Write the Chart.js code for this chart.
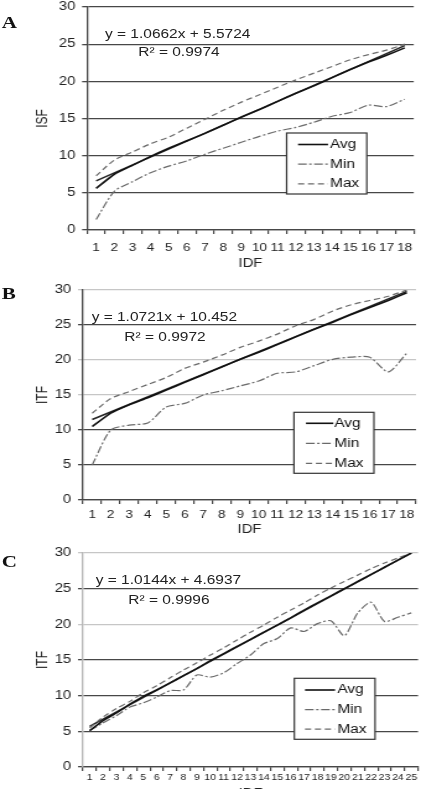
<!DOCTYPE html>
<html>
<head>
<meta charset="utf-8">
<script src="https://cdn.jsdelivr.net/npm/chart.js@4.4.1/dist/chart.umd.min.js"></script>
<style>
  html, body { margin: 0; background: #fff; overflow: hidden; }
  #page { position: relative; width: 340px; height: 789px; transform: scaleX(1.2382); transform-origin: 0 0; }
  canvas { position: absolute; left: 0; }
  .tag { position: absolute; left: 1.5px; font: bold 17px 'Liberation Serif', 'Times New Roman', serif; line-height: 20px; color: #111; }
  .eq { position: absolute; font: 12.5px 'Liberation Sans', Arial, sans-serif; line-height: 15px; color: #222; white-space: nowrap; }
</style>
</head>
<body>
<div id="page">
  <div class="tag" style="top:12.5px">A</div>
  <div class="tag" style="top:283.5px">B</div>
  <div class="tag" style="top:552px">C</div>
  <canvas id="chartA" width="340" height="272" style="top:0;width:340px;height:272px"></canvas>
  <canvas id="chartB" width="340" height="266" style="top:272px;width:340px;height:266px"></canvas>
  <canvas id="chartC" width="340" height="263" style="top:538px;width:340px;height:263px"></canvas>
  <div class="eq" id="eqA1" style="left:84.8px;top:26.7px"></div>
  <div class="eq" id="eqA2" style="left:111.7px;top:45.4px"></div>
  <div class="eq" id="eqB1" style="left:74px;top:309.6px"></div>
  <div class="eq" id="eqB2" style="left:100.4px;top:329.6px"></div>
  <div class="eq" id="eqC1" style="left:77.3px;top:572.9px"></div>
  <div class="eq" id="eqC2" style="left:103.6px;top:593.4px"></div>
</div>
<script>
// categories (IDF)
const idf18 = ['1', '2', '3', '4', '5', '6', '7', '8', '9', '10', '11', '12', '13', '14', '15', '16', '17', '18'];
const idf25 = ['1', '2', '3', '4', '5', '6', '7', '8', '9', '10', '11', '12', '13', '14', '15', '16', '17', '18', '19', '20', '21', '22', '23', '24', '25'];

// panel A: ISF
const isfAvg = [5.6, 7.5, 8.7, 9.9, 11.0, 12.0, 13.0, 14.1, 15.2, 16.2, 17.3, 18.4, 19.4, 20.5, 21.6, 22.6, 23.5, 24.5];
const isfMin = [1.4, 5.2, 6.5, 7.7, 8.6, 9.3, 10.2, 11.0, 11.8, 12.6, 13.3, 13.8, 14.5, 15.3, 15.8, 16.8, 16.6, 17.6];
const isfMax = [7.3, 9.4, 10.5, 11.6, 12.5, 13.7, 14.9, 16.1, 17.2, 18.2, 19.2, 20.2, 21.1, 22.0, 22.9, 23.6, 24.2, 25.0];
const isfTrend = [6.6, 24.8]; // first and last point of the linear fit
const eqA = ['y = 1.0662x + 5.5724', 'R² = 0.9974'];

// panel B: ITF
const itfBAvg = [10.5, 12.4, 13.6, 14.6, 15.7, 16.8, 17.9, 19.0, 20.1, 21.1, 22.2, 23.3, 24.4, 25.4, 26.5, 27.5, 28.5, 29.6];
const itfBMin = [5.0, 10.0, 10.7, 11.0, 13.3, 13.8, 15.0, 15.6, 16.3, 17.0, 18.1, 18.3, 19.2, 20.1, 20.4, 20.4, 18.3, 21.0];
const itfBMax = [12.4, 14.5, 15.5, 16.5, 17.5, 18.8, 19.7, 20.7, 21.8, 22.7, 23.7, 24.9, 25.8, 27.0, 27.9, 28.5, 29.1, 30.0];
const itfBTrend = [11.5, 29.8];
const eqB = ['y = 1.0721x + 10.452', 'R² = 0.9972'];

// panel C: ITF
const itfCAvg = [5.1, 6.5, 7.6, 8.8, 9.9, 10.8, 11.8, 12.8, 13.8, 14.9, 15.9, 16.9, 17.9, 18.9, 19.9, 20.9, 22.0, 23.0, 24.0, 25.0, 26.0, 27.0, 28.0, 29.0, 30.0];
const itfCMin = [5.1, 6.2, 7.2, 8.4, 9.0, 9.8, 10.7, 10.8, 12.9, 12.6, 13.2, 14.5, 15.7, 17.3, 18.0, 19.5, 19.0, 20.1, 20.5, 18.4, 21.6, 23.1, 20.4, 21.0, 21.6];
const itfCMax = [5.5, 7.0, 8.2, 9.2, 10.4, 11.4, 12.5, 13.6, 14.6, 15.7, 16.7, 17.8, 18.9, 19.9, 21.0, 22.0, 23.0, 24.1, 25.1, 26.0, 26.9, 27.8, 28.6, 29.3, 30.0];
const itfCTrend = [5.7, 30.0];
const eqC = ['y = 1.0144x + 4.6937', 'R² = 0.9996'];

const yMin = 0, yMax = 30, yStep = 5;

document.getElementById('eqA1').textContent = eqA[0];
document.getElementById('eqA2').textContent = eqA[1];
document.getElementById('eqB1').textContent = eqB[0];
document.getElementById('eqB2').textContent = eqB[1];
document.getElementById('eqC1').textContent = eqC[0];
document.getElementById('eqC2').textContent = eqC[1];

const sans = "'Liberation Sans', Arial, sans-serif";
const narrow = "'Liberation Sans Narrow', 'Arial Narrow', 'Liberation Sans', sans-serif";
const dark = '#474747';
const light = '#c6c6c6';

Chart.defaults.font.family = sans;
Chart.defaults.color = '#222';

// legend drawn as a framed box inside the plot, like the original
const boxLegend = {
  id: 'boxLegend',
  afterDatasetsDraw(chart, args, opts) {
    const ctx = chart.ctx;
    ctx.save();
    ctx.fillStyle = '#fff';
    ctx.fillRect(opts.x, opts.y, opts.w, opts.h);
    ctx.strokeStyle = '#333';
    ctx.lineWidth = 1.2;
    ctx.strokeRect(opts.x, opts.y, opts.w, opts.h);
    ctx.font = '12.5px ' + sans;
    ctx.textBaseline = 'middle';
    chart.data.datasets.filter((d) => !d.hideInBox).forEach((d, i) => {
      const y = opts.y + opts.first + i * opts.gap;
      ctx.strokeStyle = d.borderColor;
      ctx.lineWidth = d.borderWidth;
      ctx.setLineDash(d.borderDash || []);
      ctx.beginPath();
      ctx.moveTo(opts.sx, y);
      ctx.lineTo(opts.sx + opts.sw, y);
      ctx.stroke();
      ctx.setLineDash([]);
      ctx.fillStyle = '#111';
      ctx.fillText(d.label, opts.tx, y);
    });
    ctx.restore();
  },
};

function series(labels, avg, min, max, trend) {
  const trendData = labels.map(() => null);
  trendData[0] = trend[0];
  trendData[labels.length - 1] = trend[1];
  return [
    { label: 'Avg', data: avg, borderColor: '#111', borderWidth: 1.6, tension: 0.1 },
    { label: 'Min', data: min, borderColor: '#6a6a6a', borderWidth: 1.2, borderDash: [7, 2, 2, 2], tension: 0.25 },
    { label: 'Max', data: max, borderColor: '#6a6a6a', borderWidth: 1.2, borderDash: [5, 3], tension: 0.25 },
    { label: 'Linear (Avg)', data: trendData, borderColor: '#222', borderWidth: 1.4, tension: 0, spanGaps: true, hideInBox: true },
  ];
}

function makeChart(id, p) {
  return new Chart(document.getElementById(id), {
    type: 'line',
    data: {
      labels: p.labels,
      datasets: series(p.labels, p.avg, p.min, p.max, p.trend),
    },
    plugins: [boxLegend],
    options: {
      responsive: false,
      devicePixelRatio: 1,
      animation: false,
      layout: { padding: p.pad },
      elements: { point: { radius: 0 } },
      plugins: {
        legend: { display: false },
        tooltip: { enabled: false },
        boxLegend: p.legend,
      },
      scales: {
        x: {
          type: 'category',
          offset: true,
          afterFit: (s) => { s.height = p.xHeight; },
          grid: { offset: true, drawOnChartArea: false, drawTicks: true, tickLength: 4, color: dark, lineWidth: 1.2 },
          border: { color: dark, width: 1.3 },
          ticks: { autoSkip: false, maxRotation: 0, minRotation: 0, padding: p.xTickPad, font: p.xTickFont, color: '#222' },
          title: { display: true, text: 'IDF', font: { size: 12 }, color: '#222', padding: 0 },
        },
        y: {
          min: yMin,
          max: yMax,
          afterFit: (s) => {
            s.width = p.yWidth;
            s.paddingTop = 0;
            s.paddingBottom = 0;
          },
          grid: {
            tickLength: 4,
            lineWidth: 1.3,
            color: (c) => (p.lightGrid.includes(c.tick.value) ? light : dark),
          },
          border: { color: p.yBorder, width: 1.3 },
          ticks: { stepSize: yStep, padding: 5.5, font: { size: 12 }, color: '#222' },
          title: { display: true, text: p.yTitle, font: { size: 12 }, color: '#222', padding: { top: 27.5, bottom: 0 } },
        },
      },
    },
  });
}

makeChart('chartA', {
  labels: idf18, avg: isfAvg, min: isfMin, max: isfMax, trend: isfTrend,
  yTitle: 'ISF', yWidth: 70.3, yBorder: dark, lightGrid: [],
  pad: { top: 7, right: 1.6, bottom: 0.8, left: 0 },
  xHeight: 41.2, xTickPad: 7, xTickFont: { size: 11, family: narrow },
  legend: { x: 231.5, y: 133, w: 64.7, h: 61, first: 11.5, gap: 19.7, sx: 240.7, sw: 24.2, tx: 266.5 },
});

makeChart('chartB', {
  labels: idf18, avg: itfBAvg, min: itfBMin, max: itfBMax, trend: itfBTrend,
  yTitle: 'ITF', yWidth: 67, yBorder: dark, lightGrid: [30, 20, 15],
  pad: { top: 18, right: 4, bottom: 0.8, left: 0 },
  xHeight: 37.2, xTickPad: 4.4, xTickFont: { size: 11, family: narrow },
  legend: { x: 237.4, y: 140.3, w: 64.6, h: 61, first: 11, gap: 20, sx: 247.1, sw: 22.1, tx: 270 },
});

makeChart('chartC', {
  labels: idf25, avg: itfCAvg, min: itfCMin, max: itfCMax, trend: itfCTrend,
  yTitle: 'ITF', yWidth: 67, yBorder: '#b5b5b5', lightGrid: [30, 20],
  pad: { top: 15, right: 2.4, bottom: 0.6, left: 0 },
  xHeight: 33.4, xTickPad: 1.6, xTickFont: { size: 8.5, family: narrow },
  legend: { x: 237.7, y: 140.3, w: 65.2, h: 61, first: 11.7, gap: 19.6, sx: 246.3, sw: 24.3, tx: 272.4 },
});
</script>
</body>
</html>
